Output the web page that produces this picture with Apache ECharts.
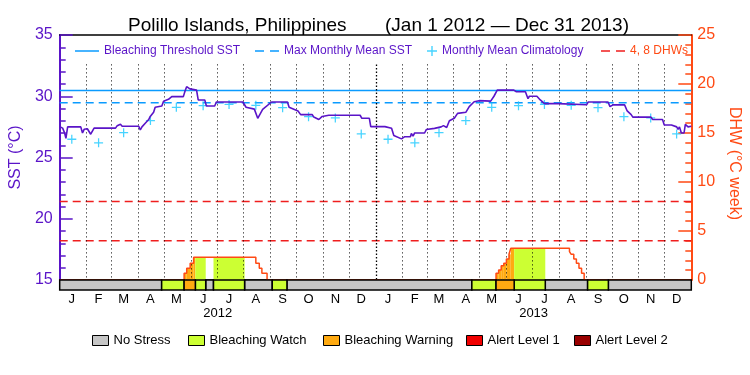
<!DOCTYPE html>
<html><head><meta charset="utf-8">
<script src="https://cdn.jsdelivr.net/npm/echarts@6/dist/echarts.min.js"></script>
<style>html,body{margin:0;padding:0;background:#fff}#c{width:750px;height:375px}</style>
</head><body><div id="c"></div>
<script>
// ---------------- data ----------------
const startYear = 2012;
const years = [2012, 2013];
const monthLetters = ['J','F','M','A','M','J','J','A','S','O','N','D'];
const titleMain = 'Polillo Islands, Philippines';
const titleRange = '(Jan 1 2012 \u2014 Dec 31 2013)';
// Monthly mean climatology (SST, °C), Jan..Dec
const climatology = [26.49, 26.2, 27.03, 28.02, 29.1, 29.23, 29.33, 29.26, 29.07, 28.33, 28.23, 26.92];
const maxMonthlyMean = 29.46;
const bleachingThreshold = 30.46;
const dhwLevels = [4, 8];
// Daily SST trace: [day since Jan 1 2012, °C]
const sstDays = [0,3.4,5.7,7.2,9.2,24.4,26.4,28.3,32,35.9,39.8,64.6,66.6,70.3,72.3,91.5,93.3,95.2,99,103,104.8,108.7,110.5,118.2,120.2,125.9,129.7,143.1,145,146.9,150.7,158.4,160.3,167.9,169.8,179.4,181.3,212,215.7,225.3,229.2,234.9,245.2,263.6,265.5,275.8,278.9,292.3,294.1,299.9,303.8,311.4,347.7,349.7,358.4,360,376.4,378.4,384.1,386.7,395.6,399.4,405.9,407,408.9,410.8,422.3,424.3,433.8,441.5,444.1,447.9,451,456.7,460.5,470.2,474,479.7,485.4,498.8,502.6,506.4,525.6,528.2,539,542,543.6,552.3,556.2,561.2,577.2,579.2,609.7,611.7,634.6,636.9,640.4,653.8,656.8,661.4,663.3,684.3,686.2,697.7,699.7,708,709.2,714.1,715.7,717.3,719.5,722.6,724.1,727.2,731];
const sstValues = [27.52,27.4,27.0,26.56,27.5,27.5,27.0,27.3,27.35,26.9,27.4,27.4,27.6,27.72,27.55,27.55,27.25,27.5,27.8,28.1,28.35,28.7,29.1,29.2,29.6,29.75,29.97,29.97,30.4,30.78,30.6,30.5,29.7,29.7,29.2,29.2,29.53,29.53,29.1,28.95,28.2,28.93,29.53,29.53,29.1,28.8,28.5,28.5,28.3,28.1,28.35,28.45,28.45,28.2,28.2,27.52,27.52,27.38,27.38,26.8,26.52,26.7,26.7,26.97,26.75,27.0,27.0,27.28,27.38,27.5,27.6,27.45,28.0,28.2,28.6,28.7,29.15,29.55,29.64,29.6,30.0,30.5,30.5,30.37,30.37,29.8,30.0,30.0,29.7,29.4,29.4,29.3,29.3,29.53,29.53,29.15,29.3,29.3,28.8,28.5,28.3,28.3,28.1,28.1,27.65,27.65,27.5,27.5,27.3,27.5,27.0,27.0,27.7,27.5,27.55];
// Degree heating weeks, step changes: [day, DHW]
const dhwDays = [0,144,147,151,155,227,231,234,240,505,508,511,514,517,520,522,590,592,595,598,601,604,607,731];
const dhwValues = [0,0.68,1.19,1.7,2.32,1.7,1.19,0.68,0,0.68,1.02,1.46,1.7,2.14,2.62,3.23,2.9,2.62,2.14,1.7,1.19,0.68,0,0];
// Alert status segments: [startDay, endDay, level]
const statusStart = [0,118,144,157,169,178,214,246,263,477,505,526,562,611,635];
const statusEnd   = [118,144,157,169,178,214,246,263,477,505,526,562,611,635,731];
const statusLevel = [0,1,2,1,0,1,0,1,0,1,2,1,0,1,0];
const statusNames = ['No Stress','Bleaching Watch','Bleaching Warning','Alert Level 1','Alert Level 2'];

// ---------------- styles ----------------
const FONT = 'Liberation Sans';
const PURPLE = '#5a14c8', BLUE = '#0a9bff', CYAN = '#18c8ff', ORANGE = '#ff4a14', RED = '#f01e1e';
const statusColors = ['#c6c6c6','#ccff33','#ffaa11','#f00000','#990000'];

// ---------------- derived ----------------
const dayOf = (y, m, d) => (Date.UTC(y, m, d) - Date.UTC(startYear, 0, 1)) / 864e5;
const totalDays = dayOf(years[years.length-1] + 1, 0, 1);
const monthStarts = [], monthMids = [];
years.forEach(y => { for (let m = 0; m < 12; m++) { monthStarts.push(dayOf(y, m, 1)); monthMids.push(dayOf(y, m, 15)); } });
const yearMids = years.map(y => (dayOf(y, 0, 1) + dayOf(y + 1, 0, 1)) / 2);
const climData = [];
years.forEach(y => climatology.forEach((v, m) => climData.push([dayOf(y, m, 15), v])));
const sstData = sstDays.map((d, i) => [d, sstValues[i]]);
const dhwData = dhwDays.map((d, i) => [d, dhwValues[i]]);
const segs = statusStart.map((s, i) => [s, statusEnd[i], statusLevel[i]]);
// fill under DHW coloured by status
const fillData = [];
for (let i = 0; i < dhwDays.length - 1; i++) {
  const a = dhwDays[i], b = dhwDays[i+1], v = dhwValues[i];
  if (v <= 0) continue;
  segs.forEach(s => {
    if (s[2] === 0) return;
    const lo = Math.max(a, s[0]), hi = Math.min(b, s[1]);
    if (hi > lo) fillData.push([lo, hi, v, s[2]]);
  });
}
const SST_MIN = 15, SST_MAX = 35, DHW_MAX = 25, MAJOR = 5;
const gridTop = 32.6;
const gridLines = monthStarts.filter(d => d > 0).map(d => [
  {coord: [d, gridTop], lineStyle: d === dayOf(2013,0,1) ? {width: 1.3, type: [1.5, 2]} : {}},
  {coord: [d, SST_MIN]}
]);

const plusPath = 'path://M4.3 0h1.4v10h-1.4z M0 4.3h10v1.4h-10z';
const solidIcon = 'path://M0 0h24v1.5h-24z';
const dashIcon = 'path://M0 0h9v1.5h-9z M15 0h9v1.5h-9z';

const statusSeries = statusNames.map((name, lvl) => ({
  name, type: 'custom', clip: false, z: 8, silent: true,
  itemStyle: {color: statusColors[lvl]},
  encode: {x: [0, 1], y: 2},
  data: segs.filter(s => s[2] === lvl),
  renderItem: (params, api) => {
    const a = api.coord([api.value(0), SST_MIN]);
    const b = api.coord([api.value(1), SST_MIN]);
    return {type: 'rect', shape: {x: a[0], y: a[1], width: b[0] - a[0], height: 10},
      style: {fill: statusColors[lvl], stroke: '#000', lineWidth: 1.5}};
  }
}));

const txt = (c, s) => ({color: c, fontSize: s, fontFamily: FONT});
const topLegend = (name, left, color, w, h, icon) => ({
  data: [{name, icon}], left, top: 40, itemWidth: w, itemHeight: h, selectedMode: false,
  textStyle: txt(color, 12), itemGap: 0
});
const botLegend = (name, left) => ({
  data: [name], left, top: 329, itemWidth: 16, itemHeight: 10, icon: 'rect', selectedMode: false,
  itemStyle: {borderColor: '#000', borderWidth: 1}, textStyle: txt('#000', 13)
});
// inward ticks: long at each major step, short (minor) at every unit
const ticks = color => ({
  axisTick: {show: true, inside: true, length: 13, lineStyle: {color, width: 1.5}},
  minorTick: {show: true, splitNumber: MAJOR, length: 6, lineStyle: {color, width: 1.5}}
});

const option = {
  animation: false,
  backgroundColor: '#fff',
  textStyle: {fontFamily: FONT},
  title: [
    {text: titleMain, left: 123, top: 11, textStyle: {fontSize: 19, fontWeight: 'normal', color: '#000', fontFamily: FONT}},
    {text: titleRange, left: 380, top: 11, textStyle: {fontSize: 19, fontWeight: 'normal', color: '#000', fontFamily: FONT}}
  ],
  legend: [
    topLegend('Bleaching Threshold SST', 70, PURPLE, 24, 2, solidIcon),
    topLegend('Max Monthly Mean SST', 250, PURPLE, 24, 2, dashIcon),
    topLegend('Monthly Mean Climatology', 422, PURPLE, 10, 10, plusPath),
    topLegend('4, 8 DHWs', 596, ORANGE, 24, 2, dashIcon),
    botLegend('No Stress', 87), botLegend('Bleaching Watch', 183), botLegend('Bleaching Warning', 318),
    botLegend('Alert Level 1', 461), botLegend('Alert Level 2', 569)
  ],
  grid: {left: 57, right: 56, top: 35, bottom: 95, containLabel: false},
  xAxis: [
    {type: 'value', position: 'bottom', min: 0, max: totalDays,
     axisLine: {show: true, onZero: false, lineStyle: {color: '#000', width: 1.5}}, axisTick: {show: false}, splitLine: {show: false},
     axisLabel: {customValues: monthMids, margin: 13, ...txt('#000', 13),
       formatter: v => { const i = monthMids.findIndex(m => Math.abs(m - v) < 0.01); return i >= 0 ? monthLetters[i % 12] : ''; }}},
    {type: 'value', position: 'bottom', min: 0, max: totalDays,
     axisLine: {show: false, onZero: false}, axisTick: {show: false}, splitLine: {show: false},
     axisLabel: {customValues: yearMids, margin: 27, ...txt('#000', 13),
       formatter: v => { const i = yearMids.findIndex(m => Math.abs(m - v) < 0.01); return i >= 0 ? String(years[i]) : ''; }}},
    {type: 'value', position: 'top', min: 0, max: totalDays,
     axisLine: {show: true, onZero: false, lineStyle: {color: '#000', width: 1.5}}, axisTick: {show: false}, axisLabel: {show: false}, splitLine: {show: false}}
  ],
  yAxis: [
    {type: 'value', position: 'left', min: SST_MIN, max: SST_MAX, interval: MAJOR,
     name: 'SST (\u00b0C)', nameLocation: 'middle', nameGap: 34, nameTextStyle: txt(PURPLE, 16),
     axisLine: {show: true, onZero: false, lineStyle: {color: PURPLE, width: 2}},
     ...ticks(PURPLE), splitLine: {show: false},
     axisLabel: {show: true, margin: 7, ...txt(PURPLE, 16)}},
    {type: 'value', position: 'right', min: 0, max: DHW_MAX, interval: MAJOR,
     name: 'DHW (\u00b0C week)', nameLocation: 'middle', nameGap: 21, nameRotate: -90,
     nameTextStyle: {...txt(ORANGE, 16), padding: [0, 0, 0, 12]},
     axisLine: {show: true, onZero: false, lineStyle: {color: ORANGE, width: 2}},
     ...ticks(ORANGE), splitLine: {show: false},
     axisLabel: {show: true, margin: 6, ...txt(ORANGE, 16)}}
  ],
  series: [
    {name: 'fill', type: 'custom', yAxisIndex: 1, z: 2, silent: true, encode: {x: [0, 1], y: 2}, data: fillData,
     renderItem: (params, api) => {
       const p0 = api.coord([api.value(0), api.value(2)]);
       const p1 = api.coord([api.value(1), 0]);
       return {type: 'rect', shape: {x: p0[0], y: p0[1], width: p1[0] - p0[0], height: p1[1] - p0[1]},
         style: {fill: statusColors[api.value(3)]}};
     }},
    {name: 'Bleaching Threshold SST', type: 'line', symbol: 'none', z: 3, silent: true,
     lineStyle: {color: BLUE, width: 1.5}, itemStyle: {color: BLUE},
     data: [[0, bleachingThreshold], [totalDays, bleachingThreshold]]},
    {name: 'Max Monthly Mean SST', type: 'line', symbol: 'none', z: 3, silent: true,
     lineStyle: {color: BLUE, width: 1.5, type: [8, 5]}, itemStyle: {color: BLUE},
     data: [[0, maxMonthlyMean], [totalDays, maxMonthlyMean]],
     markLine: {silent: true, symbol: 'none', label: {show: false},
       lineStyle: {color: '#000', width: 1, type: [1, 3]}, data: gridLines}},
    ...dhwLevels.map(v => ({name: '4, 8 DHWs', type: 'line', yAxisIndex: 1, symbol: 'none', z: 3, silent: true,
      lineStyle: {color: RED, width: 1.5, type: [8, 5]}, itemStyle: {color: RED},
      data: [[0, v], [totalDays, v]]})),
    {name: 'Monthly Mean Climatology', type: 'scatter', symbol: plusPath, symbolSize: 9, z: 4, silent: true,
     itemStyle: {color: CYAN}, data: climData},
    {name: 'DHW', type: 'line', yAxisIndex: 1, step: 'end', symbol: 'none', z: 5, silent: true,
     lineStyle: {color: ORANGE, width: 1.5}, data: dhwData},
    {name: 'SST', type: 'line', symbol: 'none', z: 6, silent: true,
     lineStyle: {color: PURPLE, width: 1.6}, data: sstData},
    ...statusSeries
  ]
};
const chart = echarts.init(document.getElementById('c'), null, {renderer: 'canvas'});
chart.setOption(option);
</script></body></html>
